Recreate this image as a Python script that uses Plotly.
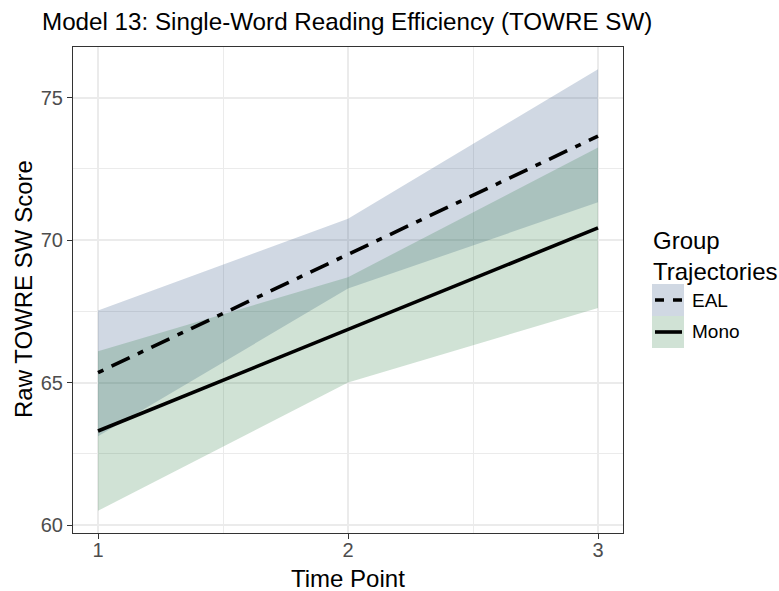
import plotly.graph_objects as go

# Predicted TOWRE SW scores with 95% confidence bands, per group and time point
time_points = [1, 2, 3]

eal_fit = [65.35, 69.50, 73.65]
eal_upper = [67.53, 70.75, 76.00]
eal_lower = [63.12, 68.30, 71.33]

mono_fit = [63.30, 66.87, 70.43]
mono_upper = [66.10, 68.70, 73.25]
mono_lower = [60.50, 65.00, 67.62]

x_ticks = [1, 2, 3]
y_ticks = [60, 65, 70, 75]

group_names = ["EAL", "Mono"]
band_colors = ["rgba(20,60,115,0.2)", "rgba(20,110,45,0.2)"]
line_dashes = ["6px,9px,20px,9px", "solid"]

W, H = 779, 591
L, R, T, B = 73, 156, 47, 58
PW, PH = W - L - R, H - T - B
FONT = "Liberation Sans, Arial, Helvetica, sans-serif"


def px_x(px):
    return (px - L) / PW


def px_y(py):
    return (H - B - py) / PH


fig = go.Figure()

bands = [(eal_upper, eal_lower), (mono_upper, mono_lower)]
for name, (up, lo), col in zip(group_names, bands, band_colors):
    fig.add_trace(go.Scatter(
        x=time_points + time_points[::-1],
        y=up + lo[::-1],
        fill="toself", fillcolor=col,
        line=dict(width=0), mode="lines",
        hoverinfo="skip", showlegend=False, name=name,
    ))

for name, fit, dash in zip(group_names, [eal_fit, mono_fit], line_dashes):
    fig.add_trace(go.Scatter(
        x=time_points, y=fit, mode="lines", name=name,
        line=dict(color="black", width=3.6, dash=dash),
        showlegend=False,
    ))

axis_common = dict(
    showline=True, mirror=True, linecolor="#333333", linewidth=1,
    ticks="outside", ticklen=5, tickwidth=1, tickcolor="#333333",
    tickfont=dict(family=FONT, size=20, color="#4D4D4D"),
    showgrid=True, gridcolor="#EBEBEB", gridwidth=1.5,
    zeroline=False,
)

fig.update_xaxes(
    range=[0.9, 3.1], tickvals=x_ticks, ticktext=[str(v) for v in x_ticks],
    ticklabelstandoff=-6,
    minor=dict(tickvals=[1.5, 2.5], showgrid=True, gridcolor="#EBEBEB",
               gridwidth=0.8, ticks=""),
    **axis_common,
)
fig.update_yaxes(
    range=[59.72, 76.78], tickvals=y_ticks, ticktext=[str(v) for v in y_ticks],
    minor=dict(tickvals=[62.5, 67.5, 72.5], showgrid=True, gridcolor="#EBEBEB",
               gridwidth=0.8, ticks=""),
    **axis_common,
)


def text_at(text, x, y, size, xanchor="left", angle=0):
    return dict(text=text, x=px_x(x), y=px_y(y), xref="paper", yref="paper",
                xanchor=xanchor, yanchor="middle", textangle=angle, showarrow=False,
                align="left", font=dict(family=FONT, size=size, color="black"))


annotations = [
    text_at("Time Point", 348, 578, 24, xanchor="center"),
    text_at("Raw TOWRE SW Score", 23, 289, 24, xanchor="center", angle=-90),
    # legend title
    text_at("Group<br>Trajectories", 651, 256, 24),
]

shapes = []
key_top = 284
key_h = 32
for i, (name, col, dash) in enumerate(zip(group_names, band_colors, line_dashes)):
    y0 = key_top + i * key_h
    yc = y0 + key_h / 2
    shapes.append(dict(type="rect", xref="paper", yref="paper",
                       x0=px_x(652), x1=px_x(684), y0=px_y(y0 + key_h), y1=px_y(y0),
                       fillcolor=col, line=dict(width=0), layer="above"))
    shapes.append(dict(type="line", xref="paper", yref="paper",
                       x0=px_x(655), x1=px_x(682), y0=px_y(yc), y1=px_y(yc),
                       line=dict(color="black", width=3.6,
                                 dash="9px,9px" if dash != "solid" else "solid"),
                       layer="above"))
    annotations.append(text_at(name, 690, yc, 19))

fig.update_layout(
    width=W, height=H,
    margin=dict(l=L, r=R, t=T, b=B),
    paper_bgcolor="white", plot_bgcolor="white",
    title=dict(text="Model 13: Single-Word Reading Efficiency (TOWRE SW)",
               x=42 / W, xanchor="left", xref="container",
               y=1 - 22 / H, yanchor="middle", yref="container",
               font=dict(family=FONT, size=24.2, color="black")),
    annotations=annotations,
    shapes=shapes,
    showlegend=False,
)

fig.write_html("out.html")
